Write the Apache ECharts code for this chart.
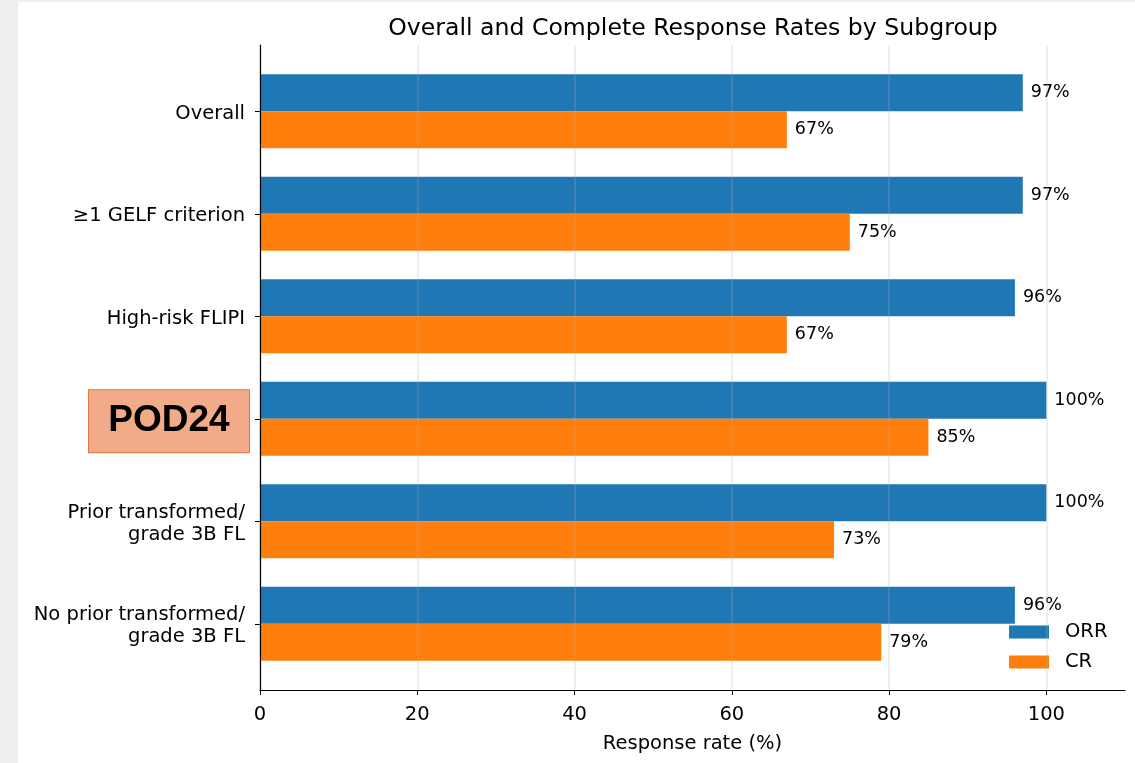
<!DOCTYPE html>
<html>
<head>
<meta charset="utf-8">
<script src="https://cdn.jsdelivr.net/npm/echarts@6/dist/echarts.min.js"></script>
<style>
  html, body { margin: 0; padding: 0; background: #fff; }
  #chart { width: 1135px; height: 763px; }
</style>
</head>
<body>
<div id="chart"></div>
<script>
const categories = ['Overall', '≥1 GELF criterion', 'High-risk FLIPI', 'POD24', 'Prior transformed/\ngrade 3B FL', 'No prior transformed/\ngrade 3B FL']
const orr = [97, 97, 96, 100, 100, 96]
const cr = [67, 75, 67, 85, 73, 79]
const xTicks = [0, 20, 40, 60, 80, 100]

const font = 'DejaVu Sans'
const chart = echarts.init(document.getElementById('chart'))

chart.setOption({
  backgroundColor: '#fff',
  animation: false,
  title: {
    text: 'Overall and Complete Response Rates by Subgroup',
    left: 688,
    textAlign: 'center',
    top: 12,
    textStyle: { fontFamily: font, fontSize: 23.6, fontWeight: 'normal', color: '#000' }
  },
  graphic: [
    { type: 'rect', shape: { x: 0, y: 0, width: 18, height: 763 }, style: { fill: '#efefef' }, silent: true },
    { type: 'rect', shape: { x: 0, y: 0, width: 1135, height: 2 }, style: { fill: '#efefef' }, silent: true }
  ],
  legend: {
    orient: 'vertical',
    left: 1009,
    top: 622,
    padding: 0,
    icon: 'rect',
    itemWidth: 40,
    itemHeight: 13,
    itemGap: 10,
    textStyle: { fontFamily: font, fontSize: 19.5, color: '#000', padding: [2, 0, 0, 11] },
    data: ['ORR', 'CR']
  },
  grid: [
    // outer frame (matches matplotlib axes with margins)
    { left: 260, right: 10, top: 45, bottom: 73 },
    // inner band area for the categories
    { left: 260, right: 10, top: 60, bottom: 88 }
  ],
  xAxis: [
    {
      gridIndex: 0,
      type: 'value',
      min: 0,
      max: 110,
      interval: 20,
      z: 5,
      name: 'Response rate (%)',
      nameLocation: 'middle',
      nameGap: 44,
      nameTextStyle: { fontFamily: font, fontSize: 19.5, color: '#000' },
      axisLine: { show: true, lineStyle: { color: '#000', width: 1.2 } },
      axisTick: { show: true, length: 5, lineStyle: { color: '#000' }, customValues: xTicks },
      axisLabel: { fontFamily: font, fontSize: 19.5, color: '#000', margin: 15, customValues: xTicks },
      splitLine: { show: true, lineStyle: { color: 'rgba(176,176,176,0.28)', width: 1.5 } }
    },
    {
      gridIndex: 1,
      type: 'value',
      min: 0,
      max: 110,
      show: false
    }
  ],
  yAxis: [
    {
      gridIndex: 0,
      type: 'value',
      min: 0,
      max: 1,
      z: 5,
      axisLine: { show: true, lineStyle: { color: '#000', width: 1.2 } },
      axisTick: { show: false },
      axisLabel: { show: false },
      splitLine: { show: false }
    },
    {
      gridIndex: 1,
      type: 'category',
      inverse: true,
      data: categories,
      axisLine: { show: false },
      axisTick: { show: true, alignWithLabel: true, length: 5, lineStyle: { color: '#000' } },
      axisLabel: {
        margin: 11,
        padding: [5, 0, 0, 0],
        formatter: (v) => {
          if (v === 'POD24') return '{pod|POD24}'
          return v.split('\n').map(s => '{n|' + s + '}').join('\n')
        },
        rich: {
          n: { fontFamily: font, fontSize: 19.5, lineHeight: 22, color: '#000', padding: [0, 4, 0, 0] },
          pod: {
            fontFamily: 'Liberation Sans',
            fontSize: 37,
            fontWeight: 'bold',
            color: '#000',
            backgroundColor: '#f2ab88',
            borderColor: '#e8743f',
            borderWidth: 1,
            width: 160,
            height: 62,
            lineHeight: 62,
            align: 'center'
          }
        }
      }
    }
  ],
  series: [
    {
      name: 'ORR',
      type: 'bar',
      xAxisIndex: 1,
      yAxisIndex: 1,
      data: orr,
      barWidth: '36%',
      barGap: '0%',
      itemStyle: { color: '#1f77b4' },
      label: { show: true, position: 'right', distance: 8, formatter: '{c}%', fontFamily: font, fontSize: 17.5, color: '#000' }
    },
    {
      name: 'CR',
      type: 'bar',
      xAxisIndex: 1,
      yAxisIndex: 1,
      data: cr,
      barWidth: '36%',
      barGap: '0%',
      itemStyle: { color: '#ff7f0e' },
      label: { show: true, position: 'right', distance: 8, formatter: '{c}%', fontFamily: font, fontSize: 17.5, color: '#000' }
    }
  ]
})
</script>
</body>
</html>
